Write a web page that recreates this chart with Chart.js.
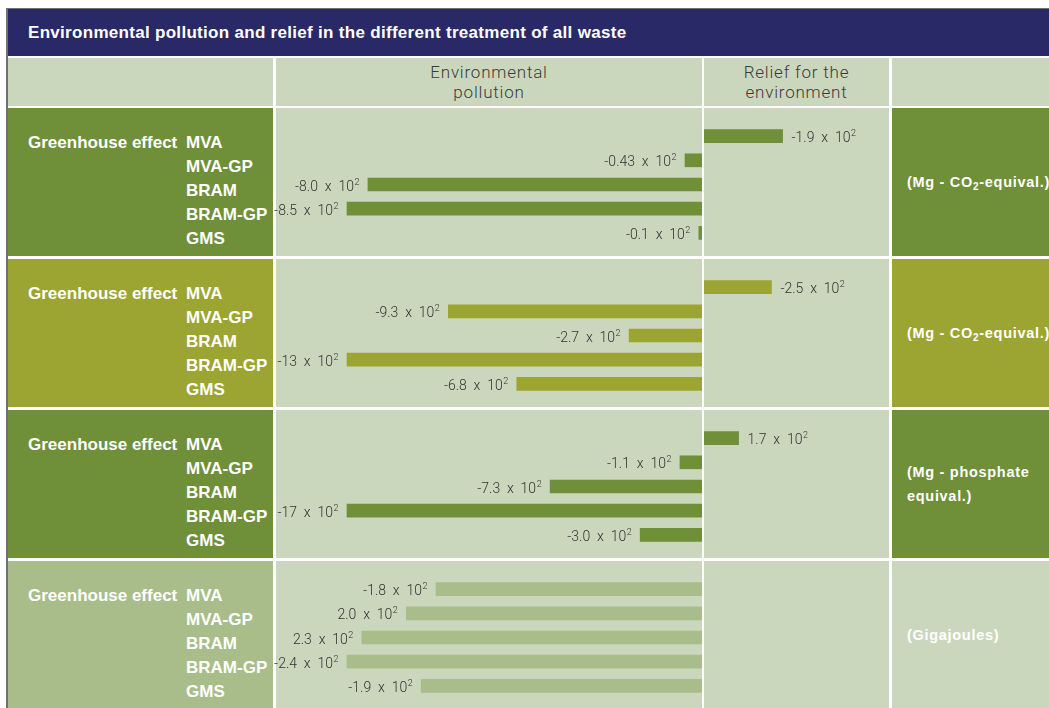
<!DOCTYPE html>
<html>
<head>
<meta charset="utf-8">
<script src="https://cdn.jsdelivr.net/npm/chart.js@4.4.1/dist/chart.umd.min.js"></script>
<style>
  html, body { margin:0; padding:0; background:#ffffff; }
  body { width:1049px; height:708px; position:relative; overflow:hidden; }
  .abs { position:absolute; }
  .light { background:#cbd7bd; }
  .title { color:#fff; font:bold 17px "Liberation Sans", Arial, sans-serif; letter-spacing:0.3px; white-space:nowrap; }
  .hdr { color:#3a3a3a; font:300 17px Roboto, "Liberation Sans", sans-serif; letter-spacing:0.8px; text-align:center; line-height:20px; }
  .lab { color:#fff; font:bold 17px "Liberation Sans", Arial, sans-serif; white-space:nowrap; line-height:24.2px; }
  .unit { color:#fff; font:bold 14.5px "Liberation Sans", Arial, sans-serif; letter-spacing:0.7px; line-height:24px; white-space:nowrap; display:flex; align-items:center; }
  .unit sub { font-size:10px; vertical-align:-3px; line-height:0; }
  canvas { position:absolute; }
</style>
</head>
<body>
<script>
// ---------------- data ----------------
const chartTitle = "Environmental pollution and relief in the different treatment of all waste";
const columnHeaders = ["Environmental\npollution", "Relief for the\nenvironment"];
const treatments = ["MVA", "MVA-GP", "BRAM", "BRAM-GP", "GMS"];
const impactCategories = ["Greenhouse effect", "Greenhouse effect", "Greenhouse effect", "Greenhouse effect"];
const unitLabels = ["(Mg - CO<sub>2</sub>-equival.)", "(Mg - CO<sub>2</sub>-equival.)", "(Mg - phosphate<br>equival.)", "(Gigajoules)"];

// bar magnitudes (x 10^2)
const pollution1 = [null, 0.43, 8.0, 8.5, 0.1];
const relief1    = [1.9, null, null, null, null];
const pollution2 = [null, 9.3, 2.7, 13, 6.8];
const relief2    = [2.5, null, null, null, null];
const pollution3 = [null, 1.1, 7.3, 17, 3.0];
const relief3    = [1.7, null, null, null, null];
const pollution4 = [1.8, 2.0, 2.3, 2.4, 1.9];
const relief4    = [null, null, null, null, null];

// printed value labels (mantissa of "x 10^2")
const pollutionLabels1 = [null, "-0.43", "-8.0", "-8.5", "-0.1"];
const reliefLabels1    = ["-1.9", null, null, null, null];
const pollutionLabels2 = [null, "-9.3", "-2.7", "-13", "-6.8"];
const reliefLabels2    = ["-2.5", null, null, null, null];
const pollutionLabels3 = [null, "-1.1", "-7.3", "-17", "-3.0"];
const reliefLabels3    = ["1.7", null, null, null, null];
const pollutionLabels4 = ["-1.8", "2.0", "2.3", "-2.4", "-1.9"];
const reliefLabels4    = [null, null, null, null, null];
// --------------------------------------

const sections = [
  {pol: pollution1, rel: relief1, polL: pollutionLabels1, relL: reliefLabels1, color:"#6f8f38", unitBg:"#6f8f38"},
  {pol: pollution2, rel: relief2, polL: pollutionLabels2, relL: reliefLabels2, color:"#9ca531", unitBg:"#9ca531"},
  {pol: pollution3, rel: relief3, polL: pollutionLabels3, relL: reliefLabels3, color:"#6f8f38", unitBg:"#6f8f38"},
  {pol: pollution4, rel: relief4, polL: pollutionLabels4, relL: reliefLabels4, color:"#a9bd8a", unitBg:"#cbd7bd"}
];

function box(x, y, w, h, bg, cls, html) {
  const d = document.createElement('div');
  d.className = 'abs' + (cls ? ' ' + cls : '');
  d.style.left = x + 'px'; d.style.top = y + 'px';
  d.style.width = w + 'px'; d.style.height = h + 'px';
  if (bg) d.style.background = bg;
  if (html != null) d.innerHTML = html;
  document.body.appendChild(d);
  return d;
}

// frame + header
box(6, 8, 1043, 1, '#707070');
box(6, 8, 2, 700, '#707070');
box(8, 9, 1041, 47, '#2a2967');
const t = box(28, 9, 900, 47, null, 'title', chartTitle);
t.style.lineHeight = '47px';
box(8, 58, 265, 48, '#cbd7bd');
const h1 = box(276, 58, 426, 48, '#cbd7bd', 'hdr');
const h2 = box(704, 58, 185, 48, '#cbd7bd', 'hdr');
box(892, 58, 157, 48, '#cbd7bd');
[h1, h2].forEach((h, i) => {
  h.style.display = 'flex'; h.style.alignItems = 'center'; h.style.justifyContent = 'center';
  h.innerHTML = '<div>' + columnHeaders[i].replace('\n', '<br>') + '</div>';
});

const sectionTops = [108, 259, 410, 561];
const SEC_H = 148;
const ZERO_OFFSET = 441, CANVAS_W = 627, MAX_BAR_PX = 356;

const valueLabelPlugin = {
  id: 'valueLabels',
  afterDatasetsDraw(chart) {
    const ctx = chart.ctx;
    const zero = chart.scales.x.getPixelForValue(0);
    ctx.save();
    ctx.fillStyle = '#ffffff';
    ctx.fillRect(zero - 1, 0, 2, chart.height);
    chart.data.datasets.forEach((ds, di) => {
      const meta = chart.getDatasetMeta(di);
      meta.data.forEach((el, i) => {
        const txt = ds.valueLabels[i];
        if (ds.data[i] == null || txt == null) return;
        const main = txt + '  x  10';
        ctx.fillStyle = '#333333';
        ctx.textBaseline = 'alphabetic';
        ctx.font = '300 14px Roboto, "Liberation Sans", sans-serif';
        const wMain = ctx.measureText(main).width;
        ctx.font = '300 9px Roboto, "Liberation Sans", sans-serif';
        const wSup = ctx.measureText('2').width;
        const base = el.y + 6;
        let x0;
        if (ds.data[i] < 0) x0 = el.x - 9 - wSup - wMain;
        else x0 = el.x + 9;
        ctx.font = '300 14px Roboto, "Liberation Sans", sans-serif';
        ctx.textAlign = 'left';
        ctx.fillText(main, x0, base);
        ctx.font = '300 9px Roboto, "Liberation Sans", sans-serif';
        ctx.fillText('2', x0 + wMain + 0.5, base - 6);
      });
    });
    ctx.restore();
  }
};

sections.forEach((s, k) => {
  const top = sectionTops[k];
  box(8, top, 265, SEC_H, s.color);
  box(276, top, 426, SEC_H, '#cbd7bd');
  box(704, top, 185, SEC_H, '#cbd7bd');
  box(892, top, 157, SEC_H, s.unitBg, 'unit', '<div>' + unitLabels[k] + '</div>').style.paddingLeft = '15px';

  const cat = box(28, top + 22.5, 150, 30, null, 'lab', impactCategories[k]);
  const tr = box(186, top + 22.5, 90, 125, null, 'lab', treatments.join('<br>'));

  const cv = document.createElement('canvas');
  cv.width = CANVAS_W; cv.height = 121;
  cv.style.left = '262px'; cv.style.top = (top + 16) + 'px';
  cv.style.width = CANVAS_W + 'px'; cv.style.height = '121px';
  document.body.appendChild(cv);

  const maxVal = Math.max(...s.pol.filter(v => v != null));
  const xMin = -maxVal * ZERO_OFFSET / MAX_BAR_PX;
  const xMax = maxVal * (CANVAS_W - ZERO_OFFSET) / MAX_BAR_PX;

  new Chart(cv, {
    type: 'bar',
    data: {
      labels: treatments,
      datasets: [
        { label: 'Environmental pollution', data: s.pol.map(v => v == null ? null : -v), valueLabels: s.polL,
          backgroundColor: s.color, barThickness: 13, grouped: false, borderWidth: 0 },
        { label: 'Relief for the environment', data: s.rel.map(v => v == null ? null : v), valueLabels: s.relL,
          backgroundColor: s.color, barThickness: 13, grouped: false, borderWidth: 0 }
      ]
    },
    options: {
      indexAxis: 'y',
      responsive: false,
      animation: false,
      devicePixelRatio: 1,
      layout: { padding: 0 },
      plugins: { legend: { display: false }, tooltip: { enabled: false } },
      scales: {
        x: { display: false, min: xMin, max: xMax },
        y: { display: false }
      }
    },
    plugins: [valueLabelPlugin]
  });
});
</script>
</body>
</html>
